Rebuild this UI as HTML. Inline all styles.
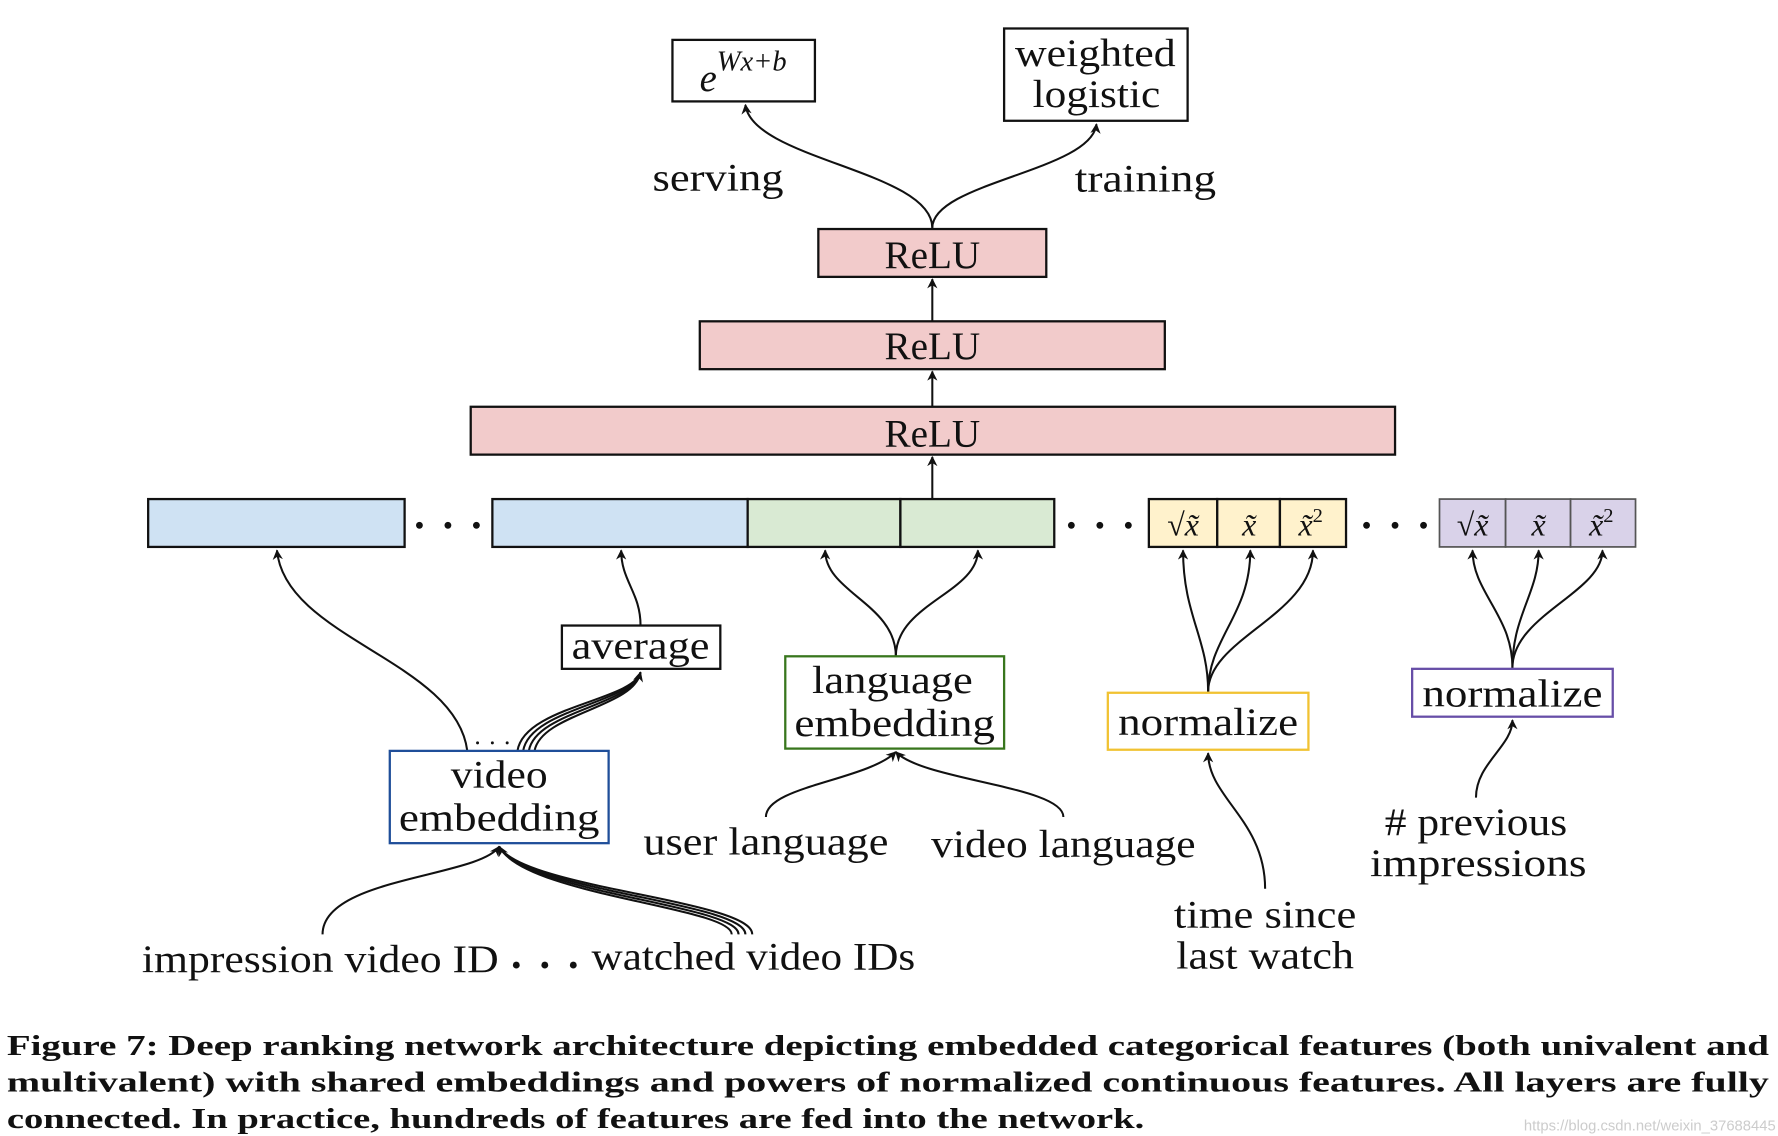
<!DOCTYPE html>
<html><head><meta charset="utf-8">
<style>
html,body{margin:0;padding:0;background:#fff;}
svg{display:block;}
text{font-family:"Liberation Serif","DejaVu Serif",serif;fill:#111;}
</style></head>
<body>
<svg width="1778" height="1136" viewBox="0 0 1560 997" preserveAspectRatio="none" xmlns="http://www.w3.org/2000/svg">
<defs>
<marker id="a" viewBox="0 0 10 10" refX="9" refY="5" markerWidth="9" markerHeight="9" orient="auto-start-reverse" markerUnits="userSpaceOnUse">
<path d="M0,0 L10,5 L0,10 L3,5 Z" fill="#111"/>
</marker>
</defs>
<g fill="none" stroke="#111" stroke-width="1.8">
<path d="M818,200 C818,150 660,140 654,92" marker-end="url(#a)"/>
<path d="M818,200 C818,160 958,150 962,109" marker-end="url(#a)"/>
<path d="M818,282 L818,245" marker-end="url(#a)"/>
<path d="M818,357 L818,326" marker-end="url(#a)"/>
<path d="M818,438 L818,401" marker-end="url(#a)"/>
<path d="M410,659 C400,580 250,560 243,483" marker-end="url(#a)"/>
<path d="M454,659 C460,620 555,615 562,590" marker-end="url(#a)"/>
<path d="M459,659 C465,622 555,617 562,590"/>
<path d="M464,659 C470,624 556,619 562,590"/>
<path d="M469,659 C475,626 557,621 562,590"/>
<path d="M562,549 C562,520 545,510 545,483" marker-end="url(#a)"/>
<path d="M283,820 C283,770 420,770 438,743" marker-end="url(#a)"/>
<path d="M660,820 C660,790 460,780 438,743"/>
<path d="M654,820 C654,792 460,782 438,743"/>
<path d="M648,820 C648,794 460,784 438,743"/>
<path d="M642,820 C642,796 460,786 438,743" marker-end="url(#a)"/>
<path d="M786,576 C786,530 724,520 724,483" marker-end="url(#a)"/>
<path d="M786,576 C786,530 858,520 858,483" marker-end="url(#a)"/>
<path d="M672,717 C672,690 760,685 786,660" marker-end="url(#a)"/>
<path d="M933,717 C933,690 810,685 786,660" marker-end="url(#a)"/>
<path d="M1060,607 C1060,560 1038,540 1038,483" marker-end="url(#a)"/>
<path d="M1060,607 C1060,560 1097,540 1097,483" marker-end="url(#a)"/>
<path d="M1060,607 C1060,560 1152,540 1152,483" marker-end="url(#a)"/>
<path d="M1110,780 C1110,720 1060,700 1060,661" marker-end="url(#a)"/>
<path d="M1327,586 C1327,540 1292,520 1292,483" marker-end="url(#a)"/>
<path d="M1327,586 C1327,540 1350,520 1350,483" marker-end="url(#a)"/>
<path d="M1327,586 C1327,540 1406,520 1406,483" marker-end="url(#a)"/>
<path d="M1295,700 C1295,670 1327,655 1327,632" marker-end="url(#a)"/>
</g>
<g stroke-width="2">
<rect x="590" y="35" width="125" height="54" fill="#fff" stroke="#111"/>
<rect x="881" y="25" width="161" height="81" fill="#fff" stroke="#111"/>
<rect x="718" y="201" width="200" height="42" fill="#f2cbcb" stroke="#111"/>
<rect x="614" y="282" width="408" height="42" fill="#f2cbcb" stroke="#111"/>
<rect x="413" y="357" width="811" height="42" fill="#f2cbcb" stroke="#111"/>
<rect x="130" y="438" width="225" height="42" fill="#cfe2f3" stroke="#111"/>
<rect x="432" y="438" width="224" height="42" fill="#cfe2f3" stroke="#111"/>
<rect x="656" y="438" width="134" height="42" fill="#d9ead3" stroke="#111"/>
<rect x="790" y="438" width="135" height="42" fill="#d9ead3" stroke="#111"/>
<rect x="1008" y="438" width="60" height="42" fill="#fff2cc" stroke="#111"/>
<rect x="1068" y="438" width="55" height="42" fill="#fff2cc" stroke="#111"/>
<rect x="1123" y="438" width="58" height="42" fill="#fff2cc" stroke="#111"/>
<rect x="1263" y="438" width="58" height="42" fill="#d9d2e9" stroke="#555" stroke-width="1.5"/>
<rect x="1321" y="438" width="57" height="42" fill="#d9d2e9" stroke="#555" stroke-width="1.5"/>
<rect x="1378" y="438" width="57" height="42" fill="#d9d2e9" stroke="#555" stroke-width="1.5"/>
<rect x="493" y="549" width="139" height="38" fill="#fff" stroke="#111"/>
<rect x="342" y="659" width="192" height="81" fill="#fff" stroke="#1f4e99"/>
<rect x="689" y="576" width="192" height="81" fill="#fff" stroke="#38761d"/>
<rect x="972" y="608" width="176" height="50" fill="#fff" stroke="#f1c232"/>
<rect x="1239" y="587" width="176" height="42" fill="#fff" stroke="#674ea7"/>
</g>
<g fill="#111">
<circle cx="368" cy="461" r="3"/><circle cx="393" cy="461" r="3"/><circle cx="418" cy="461" r="3"/>
<circle cx="940" cy="461" r="3"/><circle cx="965" cy="461" r="3"/><circle cx="990" cy="461" r="3"/>
<circle cx="1199" cy="461" r="3"/><circle cx="1224" cy="461" r="3"/><circle cx="1249" cy="461" r="3"/>
<circle cx="453" cy="847" r="3"/><circle cx="478" cy="847" r="3"/><circle cx="503" cy="847" r="3"/>
<circle cx="419" cy="652" r="1.3"/><circle cx="432" cy="652" r="1.3"/><circle cx="445" cy="652" r="1.3"/>
</g>
<g font-size="34" text-anchor="middle">
<text x="652" y="80" font-style="italic">e<tspan font-size="25" dy="-18">Wx+b</tspan></text>
<text x="961" y="58" textLength="141" lengthAdjust="spacingAndGlyphs">weighted</text>
<text x="962" y="94" textLength="112" lengthAdjust="spacingAndGlyphs">logistic</text>
<text x="630" y="167" textLength="115" lengthAdjust="spacingAndGlyphs">serving</text>
<text x="1005" y="168" textLength="124" lengthAdjust="spacingAndGlyphs">training</text>
<text x="818" y="235" textLength="84" lengthAdjust="spacingAndGlyphs">ReLU</text>
<text x="818" y="315" textLength="84" lengthAdjust="spacingAndGlyphs">ReLU</text>
<text x="818" y="392" textLength="84" lengthAdjust="spacingAndGlyphs">ReLU</text>
<text x="562" y="578" textLength="121" lengthAdjust="spacingAndGlyphs">average</text>
<text x="438" y="691" textLength="85" lengthAdjust="spacingAndGlyphs">video</text>
<text x="438" y="729" textLength="176" lengthAdjust="spacingAndGlyphs">embedding</text>
<text x="783" y="608" textLength="141" lengthAdjust="spacingAndGlyphs">language</text>
<text x="785" y="646" textLength="176" lengthAdjust="spacingAndGlyphs">embedding</text>
<text x="1060" y="645" textLength="158" lengthAdjust="spacingAndGlyphs">normalize</text>
<text x="1327" y="620" textLength="158" lengthAdjust="spacingAndGlyphs">normalize</text>
<text x="672" y="750" textLength="215" lengthAdjust="spacingAndGlyphs">user language</text>
<text x="933" y="752" textLength="232" lengthAdjust="spacingAndGlyphs">video language</text>
<text x="1110" y="814" textLength="160" lengthAdjust="spacingAndGlyphs">time since</text>
<text x="1110" y="850" textLength="156" lengthAdjust="spacingAndGlyphs">last watch</text>
<text x="1295" y="733" textLength="160" lengthAdjust="spacingAndGlyphs"># previous</text>
<text x="1297" y="769" textLength="190" lengthAdjust="spacingAndGlyphs">impressions</text>
<text x="281" y="853" textLength="313" lengthAdjust="spacingAndGlyphs">impression video ID</text>
<text x="661" y="851" textLength="284" lengthAdjust="spacingAndGlyphs">watched video IDs</text>
</g>
<g font-size="28" text-anchor="middle" font-style="italic">
<text x="1038" y="470">√x̃</text>
<text x="1096" y="470">x̃</text>
<text x="1150" y="470">x̃<tspan font-size="18" font-style="normal" dy="-12">2</tspan></text>
<text x="1292" y="470">√x̃</text>
<text x="1350" y="470">x̃</text>
<text x="1405" y="470">x̃<tspan font-size="18" font-style="normal" dy="-12">2</tspan></text>
</g>
<g font-size="25" font-weight="bold" style="font-family:'DejaVu Serif','Liberation Serif',serif">
<text x="6" y="926" textLength="1546" lengthAdjust="spacingAndGlyphs">Figure 7: Deep ranking network architecture depicting embedded categorical features (both univalent and</text>
<text x="6" y="958" textLength="1546" lengthAdjust="spacingAndGlyphs">multivalent) with shared embeddings and powers of normalized continuous features.  All layers are fully</text>
<text x="6" y="990" textLength="998" lengthAdjust="spacingAndGlyphs">connected. In practice, hundreds of features are fed into the network.</text>
</g>
<text x="1558" y="992" font-size="13" text-anchor="end" style="fill:#ccc;font-family:'Liberation Sans',sans-serif">https://blog.csdn.net/weixin_37688445</text>
</svg>
</body></html>
